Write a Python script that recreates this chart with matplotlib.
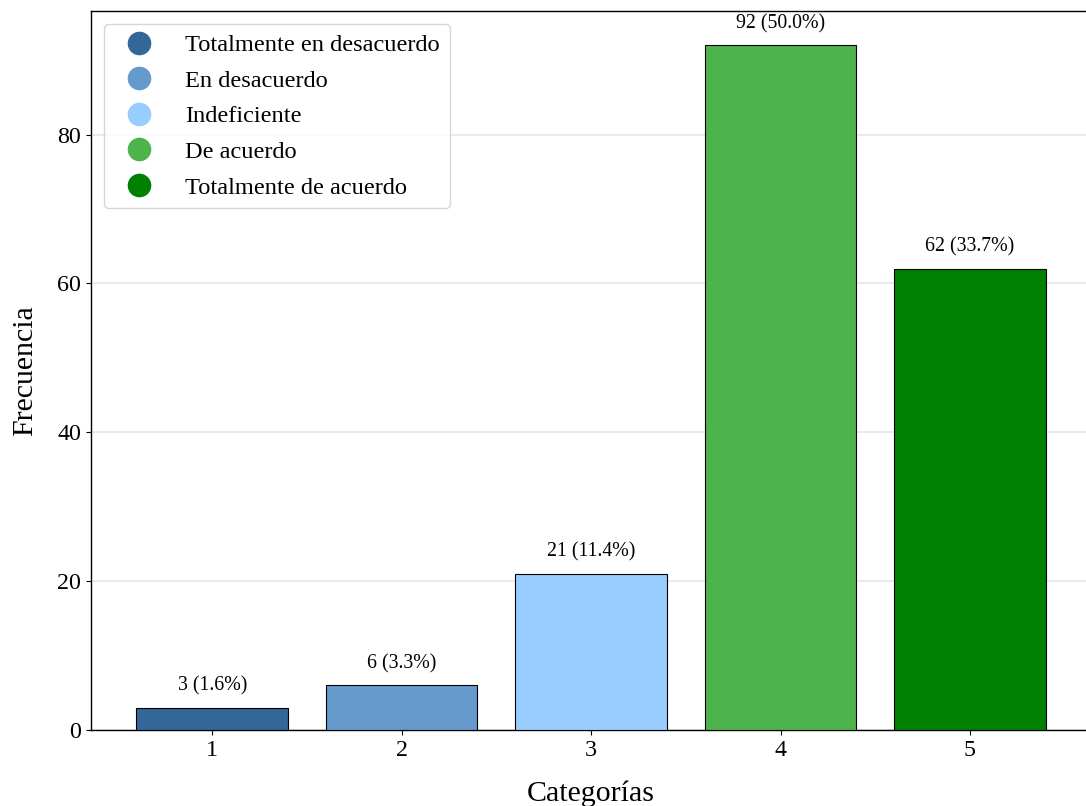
import matplotlib.pyplot as plt
from matplotlib.lines import Line2D

categorias = [1, 2, 3, 4, 5]
frecuencias = [3, 6, 21, 92, 62]
porcentajes = [1.6, 3.3, 11.4, 50.0, 33.7]
etiquetas = ['Totalmente en desacuerdo', 'En desacuerdo', 'Indeficiente',
             'De acuerdo', 'Totalmente de acuerdo']
colores = ['#336699', '#6699cc', '#99ccff', '#4db34d', '#008000']

plt.rcParams['font.family'] = ['Liberation Serif', 'DejaVu Serif']

fig = plt.figure(figsize=(10.86, 8.06), dpi=100)
ax = fig.add_axes([0.0838, 0.0943, 0.921, 0.892])

bars = ax.bar(categorias, frecuencias, width=0.8, color=colores,
              edgecolor='black', linewidth=0.8, zorder=3)

for b, f, p in zip(bars, frecuencias, porcentajes):
    ax.text(b.get_x() + b.get_width() / 2, f + 1.6, f'{f} ({p:.1f}%)',
            ha='center', va='bottom', fontsize=14.3)

ax.set_ylim(0, max(frecuencias) * 1.05)
ax.set_xticks(categorias)
ax.tick_params(labelsize=17.3)
ax.set_xlabel('Categorías', fontsize=21.5, labelpad=14)
ax.set_ylabel('Frecuencia', fontsize=21.5, labelpad=14)
ax.yaxis.grid(True, color='#e6e6e6', linewidth=1.2, zorder=0)
ax.set_axisbelow(True)
for s in ax.spines.values():
    s.set_linewidth(1.0)

handles = [Line2D([0], [0], marker='o', linestyle='', markersize=16,
                  markerfacecolor=c, markeredgecolor=c) for c in colores]
ax.legend(handles, etiquetas, loc='upper left', fontsize=17.6,
          handletextpad=0.9, borderpad=0.4, labelspacing=0.55,
          borderaxespad=0.55, edgecolor='#cccccc')

fig.savefig('out.png', dpi=100)
